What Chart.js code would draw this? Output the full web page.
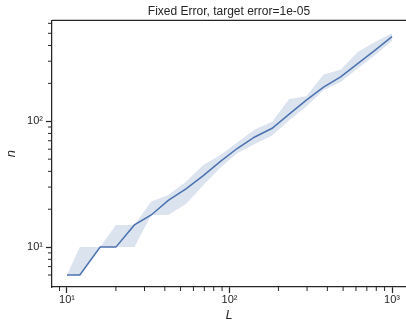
<!DOCTYPE html>
<html>
<head>
<meta charset="utf-8">
<script src="https://cdn.jsdelivr.net/npm/chart.js@4"></script>
<style>
  body { margin: 0; background: #fff; }
  #wrap { width: 406px; height: 326px; }
</style>
</head>
<body>
<div id="wrap"><canvas id="myChart"></canvas></div>
<script>
// data
const L = [10, 12, 16, 20, 26, 33, 42, 54, 69, 88, 112, 143, 183, 233, 297, 379, 483, 615, 784, 1000]
const nMean = [6, 6, 10, 10, 15, 18, 23.5, 29, 37, 48, 61, 75, 88, 114, 147, 187, 225, 287, 366, 470]
const nLow = [6, 6, 10, 10, 10, 18, 18, 22, 31, 43, 56, 66, 77, 102, 131, 176, 205, 262, 334, 434]
const nHigh = [6, 10, 10, 15, 15, 23, 26, 33, 45, 54, 68, 86, 99, 150, 158, 235, 257, 355, 427, 500]

const xTicks = [10, 100, 1000]
const xTickLabels = ['10¹', '10²', '10³']
const yTicks = [10, 100]
const yTickLabels = ['10¹', '10²']

const titleText = 'Fixed Error, target error=1e-05'
const dark = '#262626'
const blue = '#4c72b0'

function pts(ys) {
    return L.map((x, i) => ({ x: x, y: ys[i] }))
}

function isMajor(v) {
    let l = Math.log10(v)
    return Math.abs(l - Math.round(l)) < 1e-9
}

function isMinor(v) {
    let e = Math.floor(Math.log10(v) + 1e-9)
    let m = v / Math.pow(10, e)
    return Math.abs(m - Math.round(m)) < 1e-6 && Math.round(m) > 1
}

function labelFor(v, ticks, labels) {
    for (let i = 0; i < ticks.length; i++) {
        if (Math.abs(v - ticks[i]) < 1e-6) return labels[i]
    }
    return ''
}

// minor ticks and top spine
const extras = {
    id: 'extras',
    afterDraw(chart) {
        const c = chart.ctx
        const area = chart.chartArea
        const xs = chart.scales.x
        const ys = chart.scales.y
        c.save()
        c.strokeStyle = dark
        c.lineWidth = 1
        xs.ticks.forEach(t => {
            if (!isMinor(t.value)) return
            let px = xs.getPixelForValue(t.value)
            if (px < area.left || px > area.right) return
            c.beginPath()
            c.moveTo(px, area.bottom)
            c.lineTo(px, area.bottom + 4)
            c.stroke()
        })
        ys.ticks.forEach(t => {
            if (!isMinor(t.value)) return
            let py = ys.getPixelForValue(t.value)
            if (py < area.top || py > area.bottom) return
            c.beginPath()
            c.moveTo(area.left, py)
            c.lineTo(area.left - 4, py)
            c.stroke()
        })
        c.lineWidth = 1.25
        c.beginPath()
        c.moveTo(area.left, area.top)
        c.lineTo(area.right, area.top)
        c.stroke()
        c.restore()
    }
}

const ctx = document.getElementById('myChart')

const data = {
    datasets: [{
        data: pts(nHigh),
        borderWidth: 0,
        pointRadius: 0,
        backgroundColor: 'rgba(76,114,176,0.2)',
        fill: '+1'
    }, {
        data: pts(nLow),
        borderWidth: 0,
        pointRadius: 0,
        fill: false
    }, {
        data: pts(nMean),
        borderColor: blue,
        borderWidth: 1.5,
        pointRadius: 0,
        fill: false
    }]
}

const tickFont = { family: '"Liberation Sans", Arial, sans-serif', size: 11 }

const config = {
    type: 'line',
    data: data,
    options: {
        responsive: true,
        maintainAspectRatio: false,
        animation: false,
        layout: { padding: 0 },
        plugins: {
            legend: { display: false },
            tooltip: { enabled: false },
            title: {
                display: true,
                text: titleText,
                color: dark,
                fullSize: false,
                font: { family: '"Liberation Sans", Arial, sans-serif', size: 12, weight: 'normal' },
                padding: { top: 4, bottom: 2 }
            }
        },
        scales: {
            x: {
                type: 'logarithmic',
                min: 8.09,
                max: 1219,
                border: { display: true, color: dark, width: 1.25 },
                grid: {
                    display: true,
                    drawOnChartArea: false,
                    drawTicks: true,
                    tickLength: 6,
                    tickWidth: 1.25,
                    tickColor: c => isMajor(c.tick.value) ? dark : 'rgba(0,0,0,0)'
                },
                ticks: {
                    autoSkip: false,
                    maxRotation: 0,
                    padding: 0,
                    color: dark,
                    font: tickFont,
                    callback: v => labelFor(v, xTicks, xTickLabels)
                },
                title: {
                    display: true,
                    text: 'L',
                    color: dark,
                    font: { family: '"DejaVu Sans", sans-serif', size: 12, style: 'italic' },
                    padding: { top: 0, bottom: 3 }
                },
                afterFit: s => { s.height = 39 }
            },
            y: {
                type: 'logarithmic',
                min: 4.82,
                max: 633,
                border: { display: true, color: dark, width: 1.25 },
                grid: {
                    display: true,
                    drawOnChartArea: false,
                    drawTicks: true,
                    tickLength: 6,
                    tickWidth: 1.25,
                    tickColor: c => isMajor(c.tick.value) ? dark : 'rgba(0,0,0,0)'
                },
                ticks: {
                    autoSkip: false,
                    padding: 3,
                    color: dark,
                    font: tickFont,
                    callback: v => labelFor(v, yTicks, yTickLabels)
                },
                title: {
                    display: true,
                    text: 'n',
                    color: dark,
                    font: { family: '"DejaVu Sans", sans-serif', size: 12, style: 'italic' },
                    padding: { top: 5, bottom: 0 }
                },
                afterFit: s => { s.width = 52 }
            }
        }
    },
    plugins: [extras]
}

const myChart = new Chart(ctx, config)
</script>
</body>
</html>
